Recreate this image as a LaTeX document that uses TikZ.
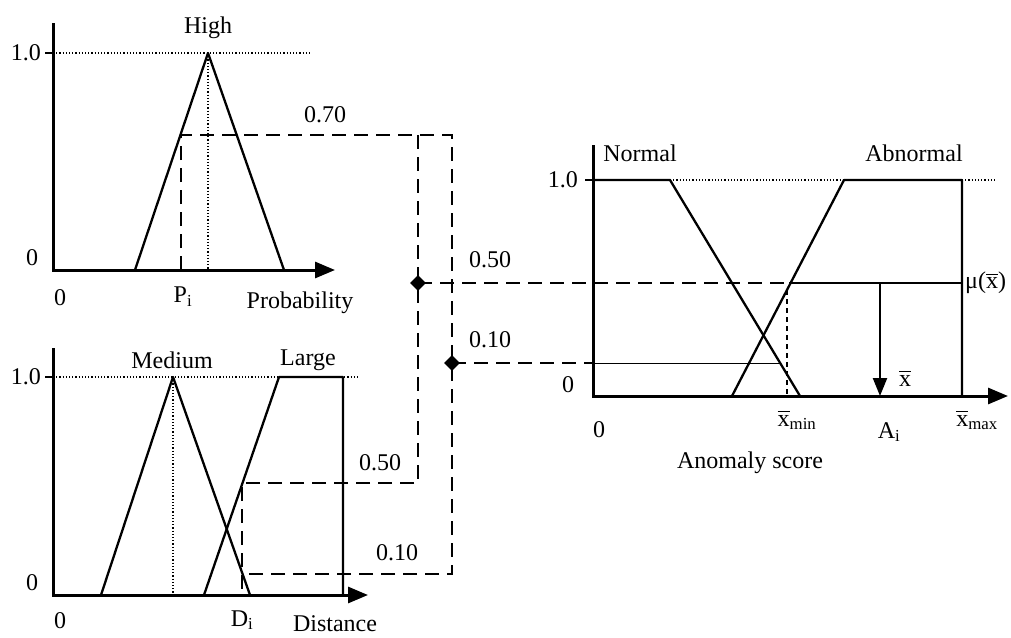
\documentclass[tikz,border=0pt]{standalone}
\usepackage{fontspec}
\setmainfont{Liberation Serif}
\usepackage{amsmath}
\usetikzlibrary{shapes.geometric, arrows.meta, positioning}

\newcommand{\xbr}{\overline{\text{x}}}

\begin{document}
\begin{tikzpicture}[
    x=1pt, y=-1pt,
    font=\fontsize{24}{28}\selectfont,
    axis/.style={draw, line width=3pt, -{Triangle[length=20pt,width=16pt]}},
    curve/.style={draw, line width=2.3pt, line join=round},
    guide/.style={draw, line width=1.2pt, dotted},
    cut/.style={draw, line width=2.8pt, dash pattern=on 14pt off 8pt},
    thin/.style={draw, line width=0.8pt},
    tick/.style={draw, line width=1.5pt},
    tip/.style={diamond, fill=black, inner sep=0pt, minimum size=16pt},
    lbl/.style={inner sep=0pt}
  ]
    \useasboundingbox (0,0) rectangle (1011,637);

    % Probability chart
    \coordinate (pO) at (53,270);
    \coordinate (pTop) at (208,53);
    \coordinate (pCut) at (181,135);
    \draw[guide] (53,53) -- (310,53);
    \draw[guide] (pTop) -- (208,270);
    \draw[tick] (45,53) -- (53,53);
    \draw[curve] (135,270) -- (pTop) -- (284,270);
    \draw[axis] (53,23) -- (pO) -- (335,270);
    \node[lbl] (high) at (208,28) {High};
    \node[lbl, anchor=east] (p1) at (41,53) {1.0};
    \node[lbl] (p0) at (32,258) {0};
    \node[lbl] (pz) at (60,298) {0};
    \node[lbl] (pi) at (183,297) {$\text{P}_{\text{i}}$};
    \node[lbl] (prob) at (300,303) {Probability};
    \node[lbl] (v70) at (325,115) {0.70};

    % Distance chart
    \coordinate (dO) at (53,595);
    \coordinate (dTop) at (173,377);
    \coordinate (dCut) at (242,483);
    \draw[guide] (53,377) -- (359,377);
    \draw[guide] (dTop) -- (173,595);
    \draw[tick] (45,377) -- (53,377);
    \draw[curve] (101,595) -- (dTop) -- (250,595);
    \draw[curve] (204,595) -- (279,377) -- (343,377) -- (343,595);
    \draw[axis] (53,348) -- (dO) -- (368,595);
    \node[lbl] (med) at (172,360) {Medium};
    \node[lbl] (large) at (308,360) {Large};
    \node[lbl, anchor=east] (d1) at (41,377) {1.0};
    \node[lbl] (d0) at (32,583) {0};
    \node[lbl] (dz) at (60,621) {0};
    \node[lbl] (di) at (242,620) {$\text{D}_{\text{i}}$};
    \node[lbl] (dist) at (335,624) {Distance};
    \node[lbl] (v50) at (380,463) {0.50};
    \node[lbl] (v10) at (397,553) {0.10};

    % Rule lines
    \coordinate (j50) at (418,283);
    \coordinate (j10) at (452,363);
    \draw[cut] (181,270) -- (pCut) -- (452,135) -- (j10) -- (452,574) -- (242,574);
    \draw[cut] (418,135) -- (j50) -- (418,483) -- (dCut) -- (242,595);

    % Anomaly chart
    \coordinate (aO) at (593,396);
    \coordinate (aHit) at (789,283);
    \coordinate (aMax) at (962,283);
    \draw[guide] (670,180) -- (844,180);
    \draw[guide] (962,180) -- (996,180);
    \draw[tick] (585,180) -- (593,180);
    \draw[curve] (593,180) -- (670,180) -- (800,396);
    \draw[curve] (732,396) -- (844,180) -- (962,180) -- (962,396);
    \draw[cut] (j50) -- (aHit);
    \draw[curve] (aHit) -- (aMax);
    \draw[cut] (j10) -- (593,363);
    \draw[thin] (593,363) -- (781,363);
    \draw[line width=1.2pt, dash pattern=on 5pt off 4pt] (787,290) -- (787,396);
    \draw[axis] (593,145) -- (aO) -- (1008,396);
    \draw[curve, -{Triangle[length=18pt,width=14pt]}] (880,283) -- (880,396);
    \node[tip] (m50) at (j50) {};
    \node[tip] (m10) at (j10) {};
    \node[lbl] (normal) at (640,153) {Normal};
    \node[lbl] (abn) at (914,153) {Abnormal};
    \node[lbl, anchor=east] (a1) at (578,180) {1.0};
    \node[lbl] (a0) at (568,385) {0};
    \node[lbl] (az) at (599,430) {0};
    \node[lbl] (r50) at (490,260) {0.50};
    \node[lbl] (r10) at (490,340) {0.10};
    \node[lbl, anchor=west] (mu) at (965,283) {μ($\xbr$)};
    \node[lbl] (xb) at (905,378) {$\xbr$};
    \node[lbl] (xmin) at (797,420) {$\xbr_{\text{min}}$};
    \node[lbl] (ai) at (889,432) {$\text{A}_{\text{i}}$};
    \node[lbl] (xmax) at (977,420) {$\xbr_{\text{max}}$};
    \node[lbl] (score) at (750,463) {Anomaly score};
\end{tikzpicture}
\end{document}
